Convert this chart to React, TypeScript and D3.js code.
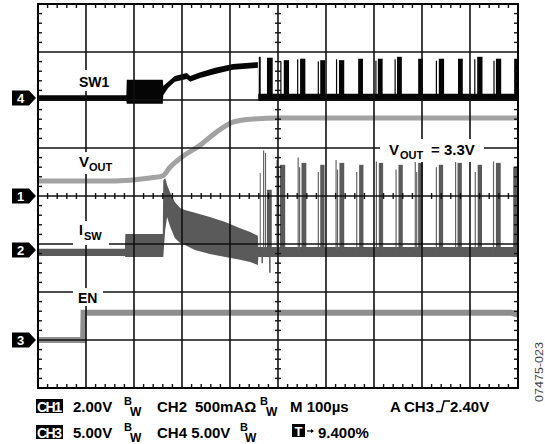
import React from "react";
import * as d3 from "d3";

const W = 545;
const H = 444;

// time axis in µs (100 µs/div, 10 div), amplitude in divisions from screen centre (±4 div)
const sw1T = [0, 184, 185, 260, 261, 271, 285, 310, 317, 338, 369, 406, 458, 459, 1000];
const sw1Hi = [2.1, 2.1, 2.42, 2.42, 2.29, 2.38, 2.5, 2.56, 2.5, 2.58, 2.67, 2.75, 2.79, 2.13, 2.13];
const sw1Lo = [1.98, 1.98, 1.92, 1.92, 2.1, 2.25, 2.38, 2.44, 2.38, 2.46, 2.54, 2.63, 2.67, 1.98, 1.98];
const sw1PulseT = [460, 477, 512, 546, 588, 627, 667, 708, 748, 792, 835, 875, 915, 954, 992];
const sw1PulseW = [4, 12, 11, 11, 10, 11, 10, 10, 10, 10, 11, 10, 11, 11, 8];
const sw1PulseTop = [2.9, 2.88, 2.83, 2.86, 2.83, 2.83, 2.86, 2.86, 2.9, 2.86, 2.86, 2.86, 2.9, 2.86, 2.86];
const sw1SpikeT = [506, 541, 584, 622, 704, 744, 830, 910, 950];
const sw1SpikeTop = [2.8, 2.85, 2.8, 2.85, 2.82, 2.85, 2.82, 2.85, 2.82];

const voutT = [0, 129, 192, 233, 260, 275, 302, 338, 369, 406, 442, 504, 1000];
const voutC = [0.31, 0.31, 0.33, 0.375, 0.42, 0.6, 0.83, 1.06, 1.31, 1.54, 1.6, 1.625, 1.625];

const iswT = [0, 181, 182, 260, 261, 265, 269, 275, 285, 296, 306, 327, 358, 390, 421, 442, 458, 459, 1000];
const iswHi = [-1.1, -1.1, -0.79, -0.79, 0.33, 0.375, 0.23, 0.08, -0.125, -0.25, -0.29, -0.35, -0.44, -0.54, -0.67, -0.75, -0.83, -1.06, -1.06];
const iswLo = [-1.25, -1.25, -1.27, -1.27, -1.27, -0.71, -0.44, -0.63, -0.875, -0.98, -1.02, -1.125, -1.21, -1.27, -1.33, -1.375, -1.44, -1.27, -1.27];
const iswPulseT = [462, 477, 504, 549, 588, 628, 669, 710, 751, 792, 835, 874, 916, 954, 990];
const iswPulseW = [2, 10, 11, 10, 9, 10, 9, 9, 9, 10, 9, 9, 9, 10, 8];
const iswPulseTop = [0.48, 0.13, 0.65, 0.69, 0.65, 0.69, 0.65, 0.69, 0.65, 0.69, 0.65, 0.69, 0.65, 0.69, 0.6];
const iswSpikeT = [470, 474, 498, 501, 542, 545, 584, 621, 624, 664, 705, 746, 786, 789, 830, 870, 911, 949];
const iswSpikeTop = [0.95, 0.9, 0.75, 0.55, 0.8, 0.6, 0.5, 0.75, 0.55, 0.5, 0.72, 0.55, 0.75, 0.5, 0.6, 0.72, 0.5, 0.72];
const iswDipT = [467, 483];
const iswDipBottom = [-1.4, -1.6];

const enT = [0, 94, 95, 985, 1000];
const enC = [-3.0, -3.0, -2.43, -2.43, -2.47];

const markerLabels = ["4", "1", "2", "3"];
const markerLevels = [2.04, 0, -1.125, -3.0];

const FONT = "'Liberation Sans', Arial, Helvetica, sans-serif";

export default function App() {
  const x = d3.scaleLinear().domain([0, 1000]).range([38, 518]);
  const y = d3.scaleLinear().domain([-4, 4]).range([388, 4]);

  const band = (t: number[], hi: number[], lo: number[]) =>
    d3
      .area<number>()
      .x((i) => x(t[i]))
      .y0((i) => y(lo[i]))
      .y1((i) => y(hi[i]))(d3.range(t.length)) || "";

  const line = (t: number[], c: number[], curve: any) =>
    d3
      .line<number>()
      .x((i) => x(t[i]))
      .y((i) => y(c[i]))
      .curve(curve)(d3.range(t.length)) || "";

  const majorX = d3.range(1, 10).map((i) => i * 100);
  const majorY = d3.range(-3, 4);
  const minorX = d3.range(0, 1001, 20).filter((v) => v % 100 !== 0);
  const minorY = d3.range(-40, 41, 2).filter((v) => v % 10 !== 0).map((v) => v / 10);

  const gridColor = "#111";

  return (
    <svg
      width={W}
      height={H}
      style={{ position: "absolute", left: 0, top: 0, background: "#fff" }}
      fontFamily={FONT}
    >
      <rect x={0} y={0} width={W} height={H} fill="#fff" />

      {/* traces */}
      <path d={line(enT, enC, d3.curveLinear)} fill="none" stroke="#8e8e8e" strokeWidth={6} />
      <path d={band(iswT, iswHi, iswLo)} fill="#5a5a5a" />
      {iswPulseT.map((t, i) => (
        <rect
          key={"ip" + i}
          x={x(t)}
          y={y(iswPulseTop[i])}
          width={x(t + iswPulseW[i]) - x(t)}
          height={y(-1.2) - y(iswPulseTop[i])}
          fill="#5a5a5a"
        />
      ))}
      {iswSpikeT.map((t, i) => (
        <line
          key={"is" + i}
          x1={x(t)}
          x2={x(t)}
          y1={y(iswSpikeTop[i])}
          y2={y(-1.1)}
          stroke="#666"
          strokeWidth={1.2}
        />
      ))}
      {iswDipT.map((t, i) => (
        <line
          key={"id" + i}
          x1={x(t)}
          x2={x(t)}
          y1={y(-1.2)}
          y2={y(iswDipBottom[i])}
          stroke="#5a5a5a"
          strokeWidth={1.5}
        />
      ))}
      <path d={line(voutT, voutC, d3.curveMonotoneX)} fill="none" stroke="#a2a2a2" strokeWidth={5} />
      <path d={band(sw1T, sw1Hi, sw1Lo)} fill="#050505" />
      {sw1PulseT.map((t, i) => (
        <rect
          key={"sp" + i}
          x={x(t)}
          y={y(sw1PulseTop[i])}
          width={x(t + sw1PulseW[i]) - x(t)}
          height={y(2.0) - y(sw1PulseTop[i])}
          fill="#050505"
        />
      ))}
      {sw1SpikeT.map((t, i) => (
        <line
          key={"ss" + i}
          x1={x(t)}
          x2={x(t)}
          y1={y(sw1SpikeTop[i])}
          y2={y(2.0)}
          stroke="#050505"
          strokeWidth={1.2}
        />
      ))}

      {/* graticule */}
      {majorX.map((v) => (
        <line key={"gx" + v} x1={x(v)} x2={x(v)} y1={y(4)} y2={y(-4)} stroke={gridColor} strokeWidth={1.6} />
      ))}
      {majorY.map((v) => (
        <line key={"gy" + v} x1={x(0)} x2={x(1000)} y1={y(v)} y2={y(v)} stroke={gridColor} strokeWidth={1.4} />
      ))}
      {minorX.map((v) => (
        <g key={"tx" + v} stroke={gridColor} strokeWidth={1.4}>
          <line x1={x(v)} x2={x(v)} y1={y(4)} y2={y(4) + 4} />
          <line x1={x(v)} x2={x(v)} y1={y(-4)} y2={y(-4) - 4} />
          <line x1={x(v)} x2={x(v)} y1={y(0) - 3} y2={y(0) + 3} />
        </g>
      ))}
      {minorY.map((v) => (
        <g key={"ty" + v} stroke={gridColor} strokeWidth={1.4}>
          <line x1={x(0)} x2={x(0) + 4} y1={y(v)} y2={y(v)} />
          <line x1={x(1000)} x2={x(1000) - 4} y1={y(v)} y2={y(v)} />
          <line x1={x(500) - 3} x2={x(500) + 3} y1={y(v)} y2={y(v)} />
        </g>
      ))}
      <rect x={x(0)} y={y(4)} width={x(1000) - x(0)} height={y(-4) - y(4)} fill="none" stroke="#000" strokeWidth={2} />

      {/* trace labels */}
      <g fontWeight="bold" fill="#000">
        <rect x={73} y={70} width={42} height={21} fill="#fff" />
        <text x={79} y={87} fontSize={14}>SW1</text>

        <rect x={73} y={152} width={48} height={22} fill="#fff" />
        <text x={79} y={167} fontSize={15}>V</text>
        <text x={89} y={171} fontSize={11}>OUT</text>

        <rect x={73} y={221} width={36} height={24} fill="#fff" />
        <text x={79} y={235} fontSize={14}>I</text>
        <text x={84} y={240} fontSize={11}>SW</text>

        <rect x={73} y={288} width={30} height={18} fill="#fff" />
        <text x={78} y={303} fontSize={14}>EN</text>

        <rect x={380} y={139} width={104} height={23} fill="#fff" />
        <text x={389} y={155} fontSize={15}>V</text>
        <text x={400} y={159} fontSize={11}>OUT</text>
        <text x={431} y={155} fontSize={15}>= 3.3V</text>
      </g>

      {/* channel markers */}
      {markerLabels.map((lab, i) => {
        const cy = y(markerLevels[i]);
        return (
          <g key={"m" + lab}>
            <path d={`M12,${cy - 7.5} H29 L36,${cy} L29,${cy + 7.5} H12 Z`} fill="#000" />
            <text x={20.5} y={cy + 5} fontSize={13} fontWeight="bold" fill="#fff" textAnchor="middle">
              {lab}
            </text>
          </g>
        );
      })}

      {/* status lines */}
      <g fontWeight="bold" fill="#000" fontSize={15}>
        <rect x={36} y={399} width={27} height={14} fill="#000" />
        <text x={37} y={412} fill="#fff" fontSize={14} textLength={25}>CH1</text>
        <text x={73} y={412}>2.00V</text>
        <text x={124} y={405} fontSize={11}>B</text>
        <text x={130} y={416} fontSize={12}>W</text>
        <text x={157} y={412}>CH2</text>
        <text x={195} y={412}>500mAΩ</text>
        <text x={260} y={405} fontSize={11}>B</text>
        <text x={266} y={416} fontSize={12}>W</text>
        <text x={290} y={412}>M 100µs</text>
        <text x={390} y={412}>A</text>
        <text x={404} y={412}>CH3</text>
        <path d="M436,411.5 H441.5 L444,401 H450" fill="none" stroke="#000" strokeWidth={1.5} />
        <text x={450} y={412}>2.40V</text>

        <rect x={36} y={425} width={27} height={14} fill="#000" />
        <text x={37} y={438} fill="#fff" fontSize={14} textLength={25}>CH3</text>
        <text x={73} y={438}>5.00V</text>
        <text x={124} y={431} fontSize={11}>B</text>
        <text x={130} y={442} fontSize={12}>W</text>
        <text x={157} y={438}>CH4 5.00V</text>
        <text x={240} y={431} fontSize={11}>B</text>
        <text x={245} y={442} fontSize={12}>W</text>
        <rect x={292} y={424} width={13} height={13} fill="#000" />
        <text x={298.5} y={436} fill="#fff" fontSize={13} textAnchor="middle">T</text>
        <path d="M307,431 H313" stroke="#000" strokeWidth={1.2} />
        <path d="M311,429 L314,431 L311,433 Z" fill="#000" />
        <text x={318} y={438}>9.400%</text>
      </g>

      <text
        transform="translate(543,372) rotate(-90)"
        x={0}
        y={0}
        fontSize={11}
        fill="#444"
        textAnchor="middle"
        textLength={60}
        lengthAdjust="spacingAndGlyphs"
      >
        07475-023
      </text>
    </svg>
  );
}
